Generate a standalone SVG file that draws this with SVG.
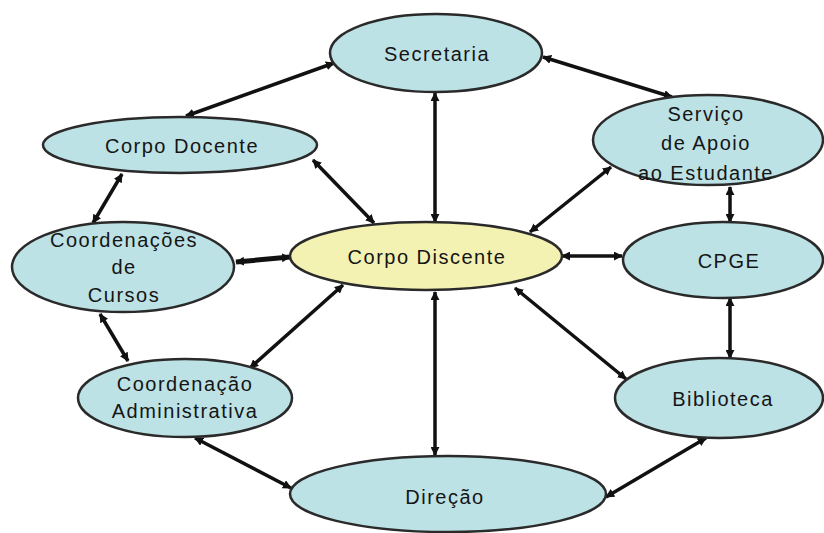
<svg xmlns="http://www.w3.org/2000/svg" width="824" height="533" viewBox="0 0 824 533">
<defs>
<marker id="ah" viewBox="0 0 10 10" refX="9" refY="5" markerWidth="9" markerHeight="9" markerUnits="userSpaceOnUse" orient="auto-start-reverse">
<path d="M0,0 L10,5 L0,10 z" fill="#111"/>
</marker>
<style>
.n{fill:#bde2e5;stroke:#2a2a2a;stroke-width:2.5}
.y{fill:#f4f2b2;stroke:#2a2a2a;stroke-width:2.5}
.t{font-family:"Liberation Sans",Arial,sans-serif;font-size:20px;letter-spacing:1.5px;fill:#151515;text-anchor:middle}
.c line{stroke:#111;stroke-width:3.5;marker-start:url(#ah);marker-end:url(#ah)}
</style>
</defs>
<rect width="824" height="533" fill="#fff"/>
<g class="c" id="connectors">
<line x1="334" y1="63" x2="186" y2="116"/>
<line x1="313" y1="160" x2="374" y2="223"/>
<line x1="93" y1="223" x2="122" y2="174"/>
<line x1="236" y1="262" x2="290" y2="257" style="stroke-width:5"/>
<line x1="435" y1="93" x2="435" y2="222"/>
<line x1="543" y1="57" x2="672" y2="97"/>
<line x1="611" y1="167" x2="530" y2="232"/>
<line x1="562" y1="256" x2="622" y2="256"/>
<line x1="730" y1="187" x2="730" y2="222"/>
<line x1="730" y1="298" x2="730" y2="358"/>
<line x1="515" y1="288" x2="626" y2="379"/>
<line x1="435" y1="292" x2="435" y2="455"/>
<line x1="343" y1="285" x2="250" y2="368"/>
<line x1="100" y1="314" x2="128" y2="361"/>
<line x1="195" y1="438" x2="291" y2="488"/>
<line x1="706" y1="438" x2="606" y2="497"/>
</g>
<g id="secretaria"><ellipse class="n" cx="436" cy="53" rx="106" ry="39"/><text class="t" x="437" y="61">Secretaria</text></g>
<g id="corpo-docente"><ellipse class="n" cx="180" cy="145" rx="137" ry="28"/><text class="t" x="182" y="153">Corpo Docente</text></g>
<g id="coordenacoes"><ellipse class="n" cx="123" cy="267" rx="111" ry="45"/><text class="t" x="124" y="247">Coordenações</text><text class="t" x="124" y="274">de</text><text class="t" x="124" y="302">Cursos</text></g>
<g id="corpo-discente"><ellipse class="y" cx="426" cy="256" rx="136" ry="34"/><text class="t" x="427" y="264">Corpo Discente</text></g>
<g id="servico"><ellipse class="n" cx="708" cy="140" rx="115" ry="45"/><text class="t" x="706" y="121">Serviço</text><text class="t" x="706" y="150">de Apoio</text><text class="t" x="706" y="180">ao Estudante</text></g>
<g id="cpge"><ellipse class="n" cx="723" cy="260" rx="100" ry="38"/><text class="t" x="729" y="268">CPGE</text></g>
<g id="biblioteca"><ellipse class="n" cx="719" cy="398" rx="104" ry="40"/><text class="t" x="723" y="406">Biblioteca</text></g>
<g id="coord-admin"><ellipse class="n" cx="185" cy="398" rx="107" ry="39"/><text class="t" x="185" y="391">Coordenação</text><text class="t" x="185" y="418">Administrativa</text></g>
<g id="direcao"><ellipse class="n" cx="448" cy="494" rx="158" ry="38"/><text class="t" x="445" y="504">Direção</text></g>
</svg>
